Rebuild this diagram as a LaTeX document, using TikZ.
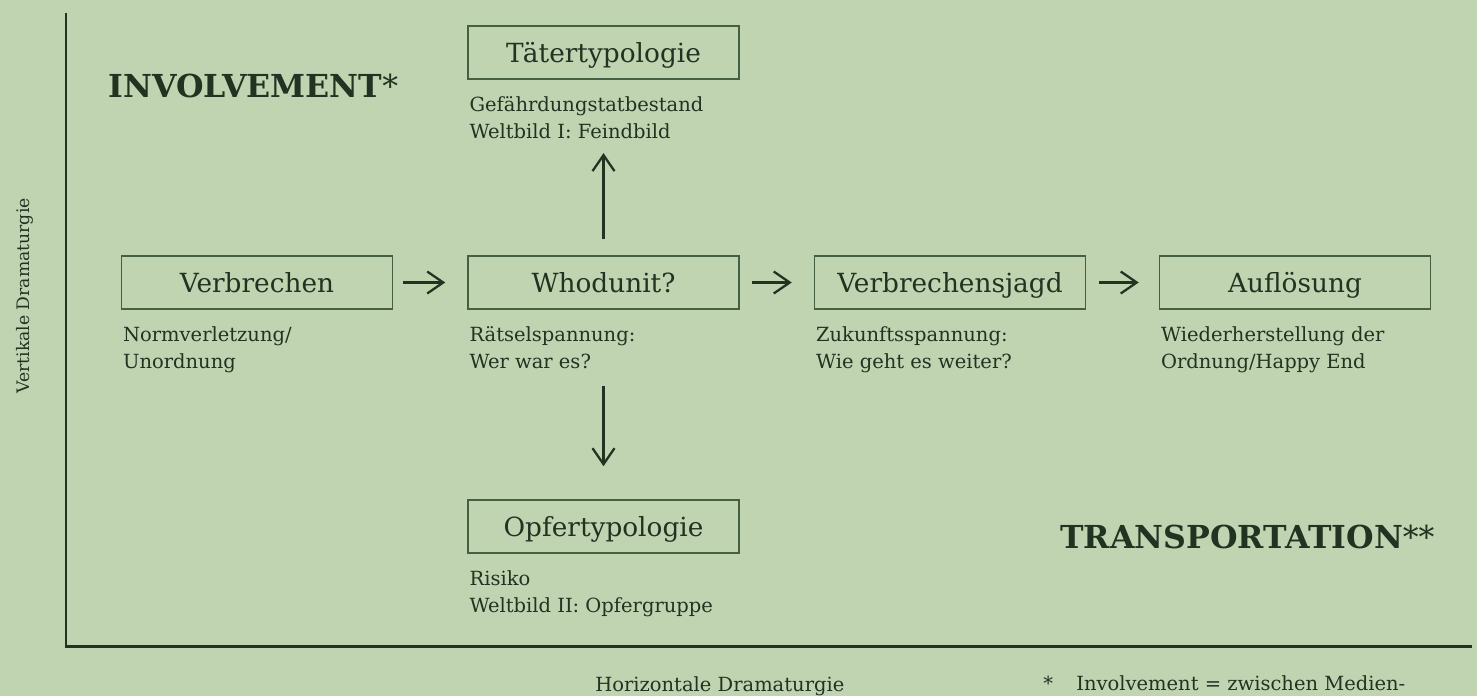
\documentclass[tikz,border=0pt]{standalone}
\usepackage{fontspec}
\setmainfont{DejaVu Serif}
\usetikzlibrary{arrows.meta,positioning}
\definecolor{BgGreen}{HTML}{C1D4B1}
\definecolor{InkGreen}{HTML}{213321}
\definecolor{BoxGreen}{HTML}{455F42}

\begin{document}
\begin{tikzpicture}[x=0.02cm,y=-0.02cm,
    stage/.style={draw=BoxGreen,line width=0.9pt,minimum width=5.42cm,minimum height=1.06cm,
        inner sep=0pt,text height=12pt,text depth=1pt,text=InkGreen,font=\fontsize{15}{18}\selectfont},
    note/.style={align=left,inner sep=0pt,text=InkGreen,font=\fontsize{11.1}{15.3}\selectfont},
    headline/.style={anchor=base west,inner sep=0pt,text=InkGreen,font=\fontsize{18}{22}\selectfont},
    flow/.style={draw=InkGreen,line width=1.3pt,-{Straight Barb[length=0.32cm,width=0.44cm]}}]
    \useasboundingbox (0,0) rectangle (1477,696);
    \fill[BgGreen] (0,0) rectangle (1477,696);
    % axes
    \coordinate (AxisTop) at (66,13);
    \coordinate (Origin) at (66,646);
    \coordinate (AxisEnd) at (1472,646);
    \draw[InkGreen,line width=1.7pt] (AxisTop) -- (Origin) -- (AxisEnd);
    \node[note,rotate=90,anchor=base,font=\fontsize{9.8}{12}\selectfont] (vAxis) at (30,296) {Vertikale Dramaturgie};
    \node[note,anchor=base west] (hAxis) at (595,691) {Horizontale Dramaturgie};
    \node[note,anchor=base west] (star) at (1043,690) {*};
    \node[note,anchor=base west] (footnote) at (1076,690) {Involvement = zwischen Medien-};

    \node[headline] (involve) at (108,98) {\textbf{INVOLVEMENT}*};
    \node[headline] (transport) at (1060,548) {\textbf{TRANSPORTATION}**};

    % stages
    \node[stage] (verb) at (257,282.5) {Verbrechen};
    \node[stage] (who) at (603.5,282.5) {Whodunit?};
    \node[stage] (hunt) at (950,282.5) {Verbrechensjagd};
    \node[stage] (solve) at (1295,282.5) {Auflösung};
    \node[stage] (offender) at (603.5,52.5) {Tätertypologie};
    \node[stage] (victim) at (603.5,526.5) {Opfertypologie};

    \node[note,below right=0.33cm and 0.04cm of verb.south west] (verbNote) {Normverletzung/\\Unordnung};
    \node[note,below right=0.33cm and 0.04cm of who.south west] (whoNote) {Rätselspannung:\\Wer war es?};
    \node[note,below right=0.33cm and 0.04cm of hunt.south west] (huntNote) {Zukunftsspannung:\\Wie geht es weiter?};
    \node[note,below right=0.33cm and 0.04cm of solve.south west] (solveNote) {Wiederherstellung der\\Ordnung/Happy End};
    \node[note,below right=0.33cm and 0.04cm of offender.south west] (offenderNote) {Gefährdungstatbestand\\Weltbild I: Feindbild};
    \node[note,below right=0.33cm and 0.04cm of victim.south west] (victimNote) {Risiko\\Weltbild II: Opfergruppe};

    \draw[flow,shorten <=0.2cm,shorten >=0.44cm] (verb) -- (who);
    \draw[flow,shorten <=0.24cm,shorten >=0.44cm] (who) -- (hunt);
    \draw[flow,shorten <=0.26cm,shorten >=0.4cm] (hunt) -- (solve);
    \draw[flow,shorten <=0.32cm,shorten >=0.28cm] (who.north) -- (who.north |- offenderNote.south);
    \draw[flow,shorten <=0.34cm,shorten >=0.66cm] (who |- whoNote.south) -- (victim);
\end{tikzpicture}
\end{document}
